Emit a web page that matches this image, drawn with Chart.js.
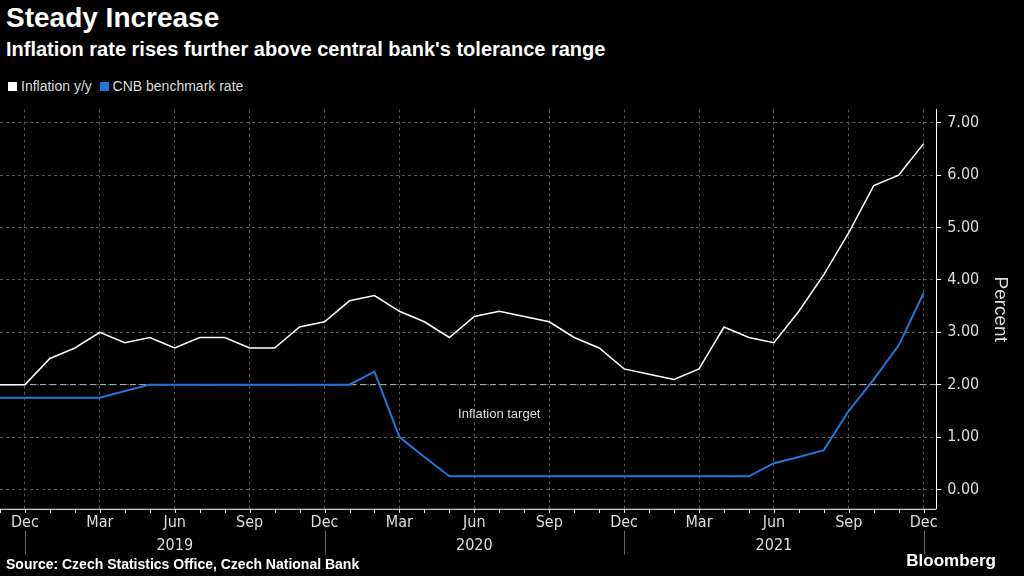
<!DOCTYPE html>
<html><head><meta charset="utf-8">
<script src="https://cdn.jsdelivr.net/npm/chart.js@4/dist/chart.umd.min.js"></script>
<style>
body{margin:0;background:#000;width:1024px;height:576px;overflow:hidden;font-family:"Liberation Sans",Arial,sans-serif;color:#fff}
#t{position:absolute;left:6px;top:2px;font-size:28px;font-weight:bold}
#s{position:absolute;left:6px;top:38px;font-size:20px;font-weight:bold}
#lg{position:absolute;left:8px;top:78px;font-size:14px;color:#ddd}
#lg span{display:inline-block;width:9px;height:9px;margin-right:4px}
#src{position:absolute;left:6px;top:556px;font-size:14px;font-weight:bold}
#bb{position:absolute;right:28px;top:551px;font-size:17px;font-weight:bold}
#wrap{position:absolute;left:0;top:94px;width:1024px;height:464px}
</style></head><body>
<div id="t">Steady Increase</div>
<div id="s">Inflation rate rises further above central bank's tolerance range</div>
<div id="lg"><span style="background:#fff"></span>Inflation y/y &nbsp;<span style="background:#1f78d9"></span>CNB benchmark rate</div>
<div id="wrap"><canvas id="c" width="1024" height="464"></canvas></div>
<div id="src">Source: Czech Statistics Office, Czech National Bank</div>
<div id="bb">Bloomberg</div>
<script>
// monthly, Nov 2018 .. Dec 2021
const months = ['Nov','Dec','Jan','Feb','Mar','Apr','May','Jun','Jul','Aug','Sep','Oct'];
const inflation = [2.0,2.0, 2.5,2.7,3.0,2.8,2.9,2.7,2.9,2.9,2.7,2.7,3.1,3.2,
  3.6,3.7,3.4,3.2,2.9,3.3,3.4,3.3,3.2,2.9,2.7,2.3,
  2.2,2.1,2.3,3.1,2.9,2.8,3.4,4.1,4.9,5.8,6.0,6.6];
const cnbRate = [1.75,1.75, 1.75,1.75,1.75,1.88,2.0,2.0,2.0,2.0,2.0,2.0,2.0,2.0,
  2.0,2.25,1.0,0.62,0.25,0.25,0.25,0.25,0.25,0.25,0.25,0.25,
  0.25,0.25,0.25,0.25,0.25,0.5,0.62,0.75,1.5,2.1,2.75,3.75];
const tickIdx = [1,4,7,10,13,16,19,22,25,28,31,34,37];
const years = [{i:7,t:'2019'},{i:19,t:'2020'},{i:31,t:'2021'}];
const sepIdx = [1,13,25,37];
const target = 2.0;

const pts = a => a.map((v,i)=>({x:i,y:v}));
const extras = {
  id:'extras',
  afterDraw(ch){
    const {ctx, scales:{x,y}, chartArea:a} = ch;
    ctx.save();
    // month ticks
    ctx.strokeStyle='#fff'; ctx.lineWidth=1;
    ctx.beginPath(); ctx.moveTo(a.left,a.bottom+0.5); ctx.lineTo(a.right,a.bottom+0.5); ctx.stroke();
    for(let i=0;i<inflation.length;i++){const px=Math.round(x.getPixelForValue(i))+0.5;ctx.beginPath();ctx.moveTo(px,a.bottom);ctx.lineTo(px,a.bottom+4);ctx.stroke();}
    // year separators
    ctx.strokeStyle='#666';
    sepIdx.forEach(i=>{const px=Math.round(x.getPixelForValue(i))+0.5;ctx.beginPath();ctx.moveTo(px,a.bottom+22);ctx.lineTo(px,a.bottom+46);ctx.stroke();});
    ctx.fillStyle='#ddd'; ctx.font='16px "Liberation Sans Narrow","DejaVu Sans Condensed",sans-serif'; ctx.textAlign='center';
    years.forEach(o=>ctx.fillText(o.t,x.getPixelForValue(o.i),a.bottom+41));
    // target label
    ctx.font='13px "Liberation Sans",sans-serif'; ctx.fillStyle='#ddd';
    ctx.fillText('Inflation target',x.getPixelForValue(20),y.getPixelForValue(target)+33);
    ctx.restore();
  }
};

new Chart(document.getElementById('c'),{
  type:'line',
  data:{datasets:[
    {data:pts(inflation),borderColor:'#fff',borderWidth:1.5,pointRadius:0,tension:0},
    {data:pts(cnbRate),borderColor:'#1f78d9',borderWidth:2,pointRadius:0,tension:0},
    {data:[{x:0,y:target},{x:37.5,y:target}],borderColor:'#bbb',borderWidth:1,borderDash:[6,4],pointRadius:0}
  ]},
  options:{
    responsive:false,animation:false,
    layout:{padding:{left:0,right:6,top:6,bottom:0}},
    plugins:{legend:{display:false},tooltip:{enabled:false}},
    scales:{
      x:{type:'linear',min:0,max:37.5,
        afterBuildTicks:s=>{s.ticks=tickIdx.map(v=>({value:v}));},
        afterFit:s=>{s.height+=22;},
        ticks:{color:'#ddd',font:{size:16,family:'"Liberation Sans Narrow","DejaVu Sans Condensed",sans-serif'},padding:4,maxRotation:0,autoSkip:false,
          callback:v=>months[v%12]},
        grid:{color:'#555',tickLength:6,drawTicks:false},border:{display:false,dash:[3,3]}},
      y:{position:'right',min:-0.37,max:7.25,
        afterBuildTicks:s=>{s.ticks=[0,1,2,3,4,5,6,7].map(v=>({value:v}));},
        ticks:{color:'#ddd',font:{size:16,family:'"Liberation Sans Narrow","DejaVu Sans Condensed",sans-serif'},padding:6,callback:v=>v.toFixed(2)},
        grid:{color:'#555',drawTicks:true,tickLength:5,tickColor:'#fff'},border:{display:true,color:'#fff',dash:[3,3]},
        title:{display:true,text:'Percent',color:'#ddd',font:{size:19},padding:{top:6}}
      }
    }
  },
  plugins:[extras]
});
</script>
</body></html>
